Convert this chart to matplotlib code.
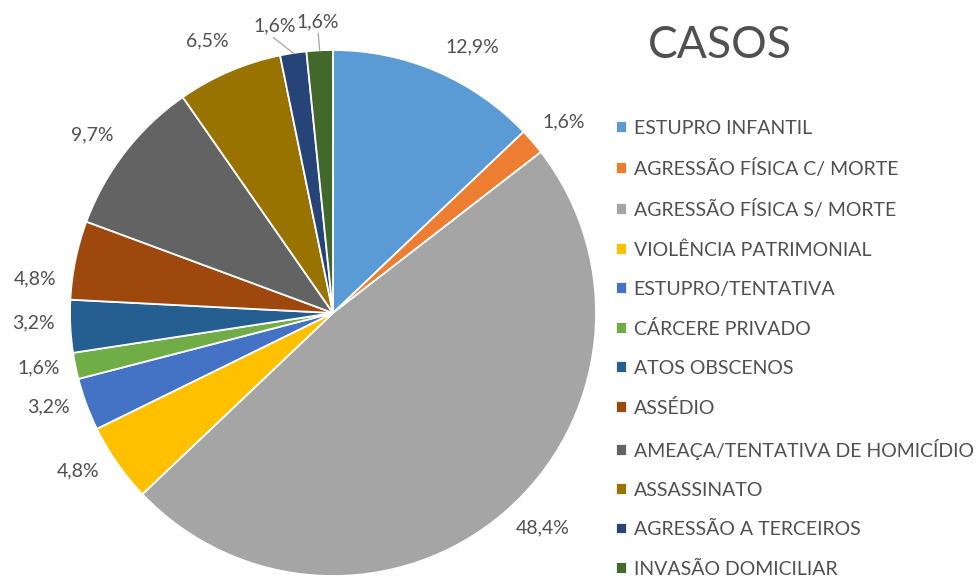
import matplotlib.pyplot as plt
import numpy as np

# Dados do gráfico (número de casos)
categorias = ['ESTUPRO INFANTIL', 'AGRESSÃO FÍSICA C/ MORTE', 'AGRESSÃO FÍSICA S/ MORTE',
              'VIOLÊNCIA PATRIMONIAL', 'ESTUPRO/TENTATIVA', 'CÁRCERE PRIVADO',
              'ATOS OBSCENOS', 'ASSÉDIO', 'AMEAÇA/TENTATIVA DE HOMICÍDIO',
              'ASSASSINATO', 'AGRESSÃO A TERCEIROS', 'INVASÃO DOMICILIAR']
casos = [8, 1, 30, 3, 2, 1, 2, 3, 6, 4, 1, 1]
cores = ['#5B9BD5', '#ED7D31', '#A5A5A5', '#FFC000', '#4472C4', '#70AD47',
         '#255E91', '#9E480E', '#636363', '#997300', '#264478', '#43682B']

plt.rcParams['font.family'] = ['Lato', 'DejaVu Sans']
cinza = '#505050'

fig = plt.figure(figsize=(9.77, 5.78), dpi=100)
ax = fig.add_axes([0, 0, 1, 1])

# Pizza em coordenadas de pixel (origem no canto inferior esquerdo)
cx, cy, R = 333, 578 - 313, 263
wedges, _ = ax.pie(casos, colors=cores, startangle=90, counterclock=False,
                   center=(cx, cy), radius=R,
                   wedgeprops=dict(edgecolor='white', linewidth=1.3))
ax.set_xlim(0, 977)
ax.set_ylim(0, 578)
ax.set_aspect('equal')
ax.axis('off')

# Rótulos percentuais (pequeno ajuste de ângulo/raio, como no Excel)
total = sum(casos)
ajuste = [-4.4, -1, 3.7, -3, -2, -1, -1, 5, 1.3, 1.5, 2.8, 0]
raio = [1.14] * 10 + [1.115, 1.11]
for i, w in enumerate(wedges):
    meio = (w.theta1 + w.theta2) / 2
    a = np.radians(meio + ajuste[i])
    texto = f'{casos[i] / total * 100:.1f}'.replace('.', ',') + '%'
    x = cx + raio[i] * R * np.cos(a)
    y = cy + raio[i] * R * np.sin(a)
    ax.text(x, y, texto, ha='center', va='center', fontsize=14, color=cinza)
    if i >= 10:
        am = np.radians(meio)
        ax.plot([cx + R * np.cos(am), x + (-1 if i == 10 else 0)],
                [cy + R * np.sin(am), y - 12], color='#A6A6A6', lw=0.9)

# Título e legenda
fig.text(720 / 977, 1 - 46 / 578, 'CASOS', ha='center', va='center',
         fontsize=32, color=cinza)
leg = ax.legend(wedges, categorias, loc='upper left',
                bbox_to_anchor=(606 / 977, 1 - 110 / 578), frameon=False,
                fontsize=14.0, handlelength=0.56, handleheight=0.56,
                handletextpad=0.36, labelspacing=1.137, borderpad=0)
for t in leg.get_texts():
    t.set_color(cinza)

fig.savefig('out.png', dpi=100)
